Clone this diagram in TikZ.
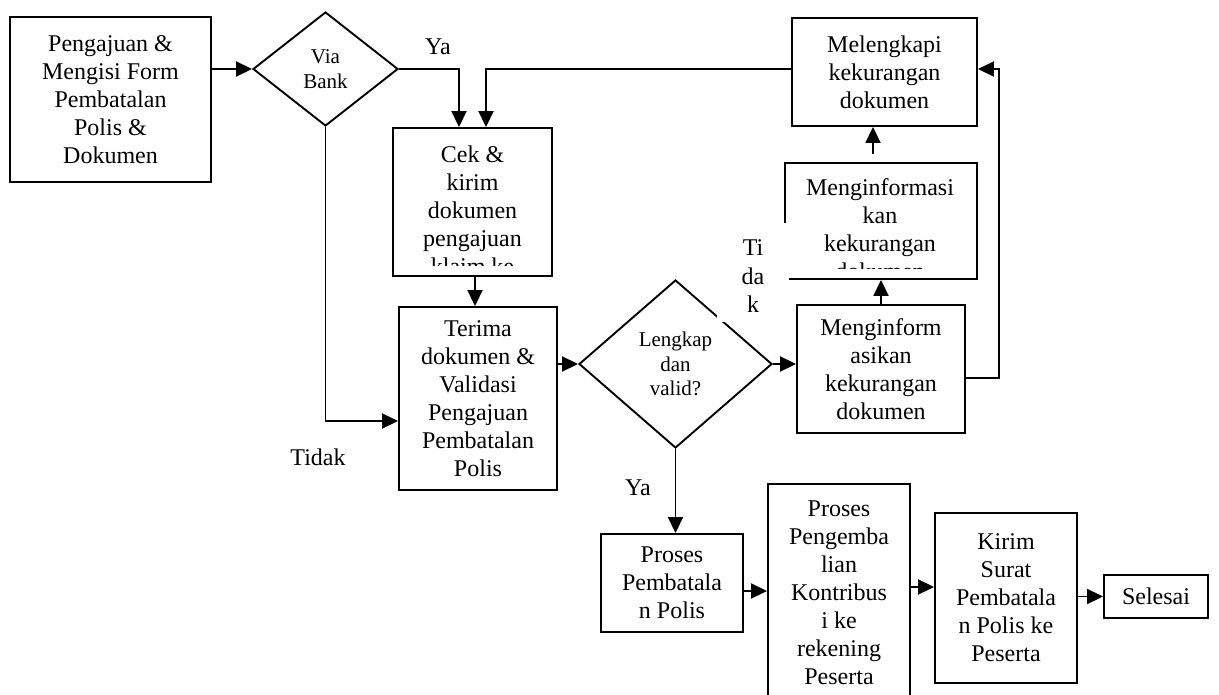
\documentclass[tikz,border=0pt]{standalone}
\usepackage{fontspec}
\setmainfont{Liberation Serif}
\usetikzlibrary{shapes.geometric,arrows.meta}
\begin{document}
\begin{tikzpicture}[x=1pt,y=-1pt,
  box/.style={draw, line width=1.9pt, rectangle, inner sep=0pt, align=center,
    font=\fontsize{24}{28}\selectfont},
  dec/.style={draw, line width=1.9pt, diamond, inner sep=0pt, align=center,
    font=\fontsize{21}{24.5}\selectfont},
  txt/.style={inner sep=0pt, align=center, font=\fontsize{24}{28}\selectfont},
  lbl/.style={inner sep=0pt, align=center, font=\fontsize{24}{28.5}\selectfont},
  flow/.style={line width=1.9pt, -{Triangle[length=16pt,width=15pt]}}]
\clip (0,0) rectangle (1219,695);

% process boxes and decisions
\node[box, minimum width=201, minimum height=165] (start) at (110.5,99.5)
  {Pengajuan \&\\Mengisi Form\\Pembatalan\\Polis \&\\Dokumen};
\node[dec, minimum width=145, minimum height=114] (bank) at (325.5,69) {Via\\Bank};
\node[box, minimum width=159, minimum height=148] (cek) at (472.5,202) {};
\node[box, minimum width=158, minimum height=183] (terima) at (478,398.5)
  {Terima\\dokumen \&\\Validasi\\Pengajuan\\Pembatalan\\Polis};
\node[dec, minimum width=193, minimum height=168] (valid) at (675.5,364)
  {Lengkap\\dan\\valid?};
\node[box, minimum width=185, minimum height=108] (lengkapi) at (884.5,72)
  {Melengkapi\\kekurangan\\dokumen};
\node[box, minimum width=192, minimum height=116] (info2) at (881,221) {};
\node[box, minimum width=168, minimum height=128] (info1) at (881,369)
  {Menginform\\asikan\\kekurangan\\dokumen};
\node[box, minimum width=142, minimum height=98] (proses) at (672,583)
  {Proses\\Pembatala\\n Polis};
\node[box, minimum width=142, minimum height=217] (kembali) at (839,592.5)
  {Proses\\Pengemba\\lian\\Kontribus\\i ke\\rekening\\Peserta};
\node[box, minimum width=142, minimum height=170] (kirim) at (1006,598)
  {Kirim\\Surat\\Pembatala\\n Polis ke\\Peserta};
\node[box, minimum width=104, minimum height=43] (selesai) at (1156,596.5) {Selesai};

% text that overflows its box is cut off at the lower margin
\begin{scope}
  \clip (cek.north west) rectangle ([yshift=11pt]cek.south east);
  \node[txt] (cektext) at (472.5,210)
    {Cek \&\\kirim\\dokumen\\pengajuan\\klaim ke};
\end{scope}
\begin{scope}
  \clip (info2.north west) rectangle ([yshift=11pt]info2.south east);
  \node[txt] (info2text) at (880,229)
    {Menginformasi\\kan\\kekurangan\\dokumen};
\end{scope}

% white label box of the "Tidak" branch, lying over its neighbours
\fill[white] (717,223) rectangle (789,322);
\node[lbl] (tidakB) at (753,276.5) {Ti\\da\\k};

% branch labels
\node[lbl] (yaA) at (438,47) {Ya};
\node[lbl] (tidakA) at (318,457) {Tidak};
\node[lbl] (yaB) at (638,488) {Ya};

% connectors
\draw[flow] (bank.west -| start.east) -- (bank.west);
\draw[flow] (bank.east) -| ([xshift=-13.5pt]cek.north);
\draw[flow] ([yshift=3pt]lengkapi.west) -| ([xshift=13.5pt]cek.north);
\draw[flow] (bank.south) |- ([yshift=-22.5pt]terima.west);
\draw[flow] ([xshift=2.5pt]cek.south) -- ([xshift=2.5pt]cek.south |- terima.north);
\draw[flow] (valid.west -| terima.east) -- (valid.west);
\draw[flow] (valid.east) -- (valid.east -| info1.west);
\draw[flow] (info1.north) -- (info2.south);
\draw[flow, shorten <=8pt] ([xshift=-8pt]info2.north) -- ([xshift=-8pt]info2.north |- lengkapi.south);
\coordinate (rloop) at (999,69);
\draw[flow] ([yshift=-9pt]info1.east) -| (rloop) -- (rloop -| lengkapi.east);
\draw[flow] (valid.south) -- (valid.south |- proses.north);
\draw[flow] ([yshift=-8pt]proses.east) -- ([yshift=-8pt]proses.east -| kembali.west);
\draw[flow] ([yshift=5.5pt]kembali.east) -- ([yshift=5.5pt]kembali.east -| kirim.west);
\draw[flow] (selesai.west -| kirim.east) -- (selesai.west);
\end{tikzpicture}
\end{document}
